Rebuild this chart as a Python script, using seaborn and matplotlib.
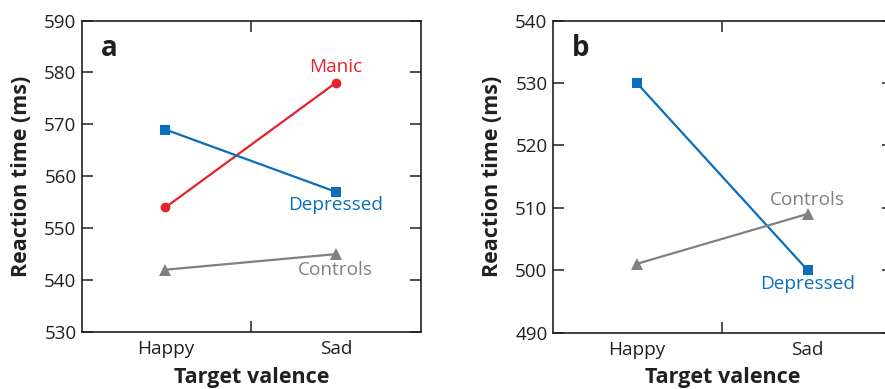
import pandas as pd
import seaborn as sns
import numpy as np
import matplotlib.pyplot as plt

# dados
valencia = ["Happy", "Sad"]

manic_a = [554, 578]
depressed_a = [569, 557]
controls_a = [542, 545]

depressed_b = [530, 500]
controls_b = [501, 509]

ylim_a = (530, 590)
ylim_b = (490, 540)

vermelho = "#e8202a"
azul = "#0a6ebd"
cinza = "#808080"

sns.set_theme(style="white")
plt.rcParams['font.family'] = ['Open Sans', 'DejaVu Sans']

fig = plt.figure(figsize=(8.85, 3.89), dpi=100)
W, H = 885, 389
ax_a = fig.add_axes([82 / W, (H - 332) / H, 339 / W, 311.5 / H])
ax_b = fig.add_axes([553 / W, (H - 332.5) / H, 340 / W, 312 / H])


def linha(ax, valores, cor, marcador, tam):
    df = pd.DataFrame({"Valencia": valencia, "RT": valores})
    sns.lineplot(x="Valencia", y="RT", data=df, ax=ax, color=cor, marker=marcador,
                 markersize=tam, markeredgewidth=0, linewidth=1.6)


def formatar(ax, ylim, letra):
    ax.set_xlim(-0.49, 1.5)
    ax.set_ylim(*ylim)
    ax.set_yticks(np.arange(ylim[0], ylim[1] + 1, 10))
    ax.set_xticks([0, 1], valencia)
    ax.set_xticks([0.5], minor=True)
    ax.tick_params(axis="x", which="major", length=0, labelsize=13.7, pad=6, colors="#231f20")
    ax.tick_params(axis="x", which="minor", length=8, width=1.1, direction="in", top=True, bottom=True, color="#231f20")
    ax.tick_params(axis="y", length=8, width=1.1, direction="in", left=True, right=True,
                   labelsize=13.5, pad=4, colors="#231f20")
    for s in ax.spines.values():
        s.set_color("#231f20")
        s.set_linewidth(1.2)
    ax.set_xlabel("Target valence", fontsize=15.5, fontweight="bold", color="#231f20", labelpad=6)
    ax.set_ylabel("Reaction time (ms)", fontsize=15.5, fontweight="bold", color="#231f20", labelpad=9)
    ax.text(0.055, 0.91, letra, transform=ax.transAxes, fontsize=20, fontweight="bold",
            color="#231f20", va="center", ha="left")


linha(ax_a, manic_a, vermelho, "o", 7)
linha(ax_a, depressed_a, azul, "s", 7.5)
linha(ax_a, controls_a, cinza, "^", 8.5)
formatar(ax_a, ylim_a, "a")
ax_a.text(1, 581.0, "Manic", color=vermelho, fontsize=13.7, ha="center", va="center")
ax_a.text(1, 554.4, "Depressed", color=azul, fontsize=13.7, ha="center", va="center")
ax_a.text(1, 542.0, "Controls", color=cinza, fontsize=13.7, ha="center", va="center")

linha(ax_b, depressed_b, azul, "s", 7.5)
linha(ax_b, controls_b, cinza, "^", 8.5)
formatar(ax_b, ylim_b, "b")
ax_b.text(1, 511.3, "Controls", color=cinza, fontsize=13.7, ha="center", va="center")
ax_b.text(1, 497.7, "Depressed", color=azul, fontsize=13.7, ha="center", va="center")

plt.savefig("out.png", dpi=100)
plt.close()
